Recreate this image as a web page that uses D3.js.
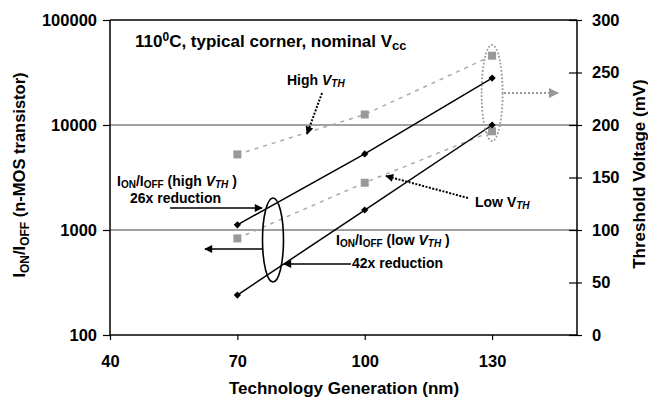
<!DOCTYPE html>
<html>
<head>
<meta charset="utf-8">
<script src="https://cdn.jsdelivr.net/npm/d3@7"></script>
<style>
  body { margin: 0; background: #fff; }
  svg { font-family: "Liberation Sans", Arial, sans-serif; font-weight: bold; }
</style>
</head>
<body>
<svg id="chart" width="648" height="398"></svg>
<script>
// technology nodes (nm)
const nodes = [70, 100, 130];
// Ion/Ioff ratios (left, log axis)
const ratioHighVth = [1120, 5300, 28000];
const ratioLowVth = [240, 1550, 10000];
// threshold voltages (right axis, mV)
const vthHigh = [172, 210, 266];
const vthLow = [92, 145, 194];

const xTicks = [40, 70, 100, 130];
const yLeftTicks = [100, 1000, 10000, 100000];
const yRightTicks = [0, 50, 100, 150, 200, 250, 300];

const svg = d3.select("#chart");
const pLeft = 110, pRight = 577, pTop = 20, pBottom = 335;

const x = d3.scaleLinear().domain([40, 150]).range([pLeft, pRight]);
const yL = d3.scaleLog().domain([100, 100000]).range([pBottom, pTop]);
const yR = d3.scaleLinear().domain([0, 300]).range([pBottom, pTop]);

// defs: arrow heads
const defs = svg.append("defs");
defs.append("marker").attr("id", "ahBlack")
    .attr("viewBox", "0 0 10 10").attr("refX", 9).attr("refY", 5)
    .attr("markerWidth", 11).attr("markerHeight", 8).attr("markerUnits", "userSpaceOnUse")
    .attr("orient", "auto")
  .append("path").attr("d", "M0,0 L10,5 L0,10 z").attr("fill", "#000");
defs.append("marker").attr("id", "ahGray")
    .attr("viewBox", "0 0 10 10").attr("refX", 9).attr("refY", 5)
    .attr("markerWidth", 13).attr("markerHeight", 10).attr("markerUnits", "userSpaceOnUse")
    .attr("orient", "auto")
  .append("path").attr("d", "M0,0 L10,5 L0,10 z").attr("fill", "#999");

// gridlines
svg.append("g").selectAll("line")
  .data([1000, 10000])
  .join("line")
  .attr("x1", pLeft).attr("x2", pRight)
  .attr("y1", d => yL(d)).attr("y2", d => yL(d))
  .style("stroke", "#444").style("stroke-width", 1.2);
svg.append("line")
  .attr("x1", pLeft).attr("x2", pRight).attr("y1", pTop).attr("y2", pTop)
  .style("stroke", "#000").style("stroke-width", 1.5);

// axes
const axisLeft = svg.append("g").attr("transform", `translate(${pLeft},0)`)
  .call(d3.axisLeft(yL).tickValues(yLeftTicks).tickFormat(d3.format("d")).tickSize(5).tickPadding(8));
const axisRight = svg.append("g").attr("transform", `translate(${pRight},0)`)
  .call(d3.axisRight(yR).tickValues(yRightTicks).tickSize(5).tickPadding(10));
const axisBottom = svg.append("g").attr("transform", `translate(0,${pBottom})`)
  .call(d3.axisBottom(x).tickValues(xTicks).tickSize(5).tickPadding(15));
[axisLeft, axisRight, axisBottom].forEach(a => {
  a.select(".domain").style("stroke", "#000").style("stroke-width", 1.5);
  a.selectAll(".tick line").style("stroke", "#000").style("stroke-width", 1.2);
  a.selectAll("text").style("font-size", "16.5px").style("font-weight", "bold").style("fill", "#000")
    .style("font-family", "'Liberation Sans', Arial, sans-serif");
});
axisBottom.select(".domain").attr("d", `M${pLeft},0H${pRight}`);
axisLeft.select(".domain").attr("d", `M0,${pTop}V${pBottom}`);
axisRight.select(".domain").attr("d", `M0,${pTop}V${pBottom}`);
// right ticks cross the axis
axisRight.selectAll(".tick line").attr("x1", -8).attr("x2", 5);
axisLeft.selectAll(".tick line").attr("x2", -7);

// axis titles
svg.append("text").attr("x", 344).attr("y", 394)
  .attr("text-anchor", "middle").style("font-size", "17px").text("Technology Generation (nm)");

const lt = svg.append("text").attr("transform", "translate(25,175) rotate(-90)")
  .attr("text-anchor", "middle").style("font-size", "16.5px");
lt.append("tspan").text("I");
lt.append("tspan").attr("dy", 4).style("font-size", "12px").text("ON");
lt.append("tspan").attr("dy", -4).text("/I");
lt.append("tspan").attr("dy", 4).style("font-size", "12px").text("OFF");
lt.append("tspan").attr("dy", -4).text(" (n-MOS transistor)");

svg.append("text").attr("transform", "translate(645,174) rotate(-90)")
  .attr("text-anchor", "middle").style("font-size", "17px").text("Threshold Voltage (mV)");

// Vth dashed gray lines
const lineR = d3.line().x((d, i) => x(nodes[i])).y(d => yR(d));
[vthHigh, vthLow].forEach(s => {
  svg.append("path").datum(s).attr("d", lineR)
    .attr("fill", "none").style("stroke", "#aaa").style("stroke-width", 1.5)
    .style("stroke-dasharray", "4,5");
  svg.append("g").selectAll("rect").data(s).join("rect")
    .attr("x", (d, i) => x(nodes[i]) - 4).attr("y", d => yR(d) - 4)
    .attr("width", 8).attr("height", 8).style("fill", "#999");
});

// Ion/Ioff black lines
const lineL = d3.line().x((d, i) => x(nodes[i])).y(d => yL(d));
[ratioHighVth, ratioLowVth].forEach(s => {
  svg.append("path").datum(s).attr("d", lineL)
    .attr("fill", "none").style("stroke", "#000").style("stroke-width", 1.5);
  svg.append("g").selectAll("path").data(s).join("path")
    .attr("transform", (d, i) => `translate(${x(nodes[i])},${yL(d)}) rotate(45)`)
    .attr("d", d3.symbol(d3.symbolSquare, 26))
    .style("fill", "#000");
});

// ellipses
svg.append("ellipse").attr("cx", 273).attr("cy", 240).attr("rx", 10.5).attr("ry", 42)
  .attr("fill", "none").style("stroke", "#000").style("stroke-width", 1.6);
svg.append("ellipse").attr("cx", x(130)).attr("cy", 93).attr("rx", 10.5).attr("ry", 48)
  .attr("fill", "none").style("stroke", "#999").style("stroke-width", 1.8)
  .style("stroke-dasharray", "1.8,1.8");

// arrows
function arrow(x1, y1, x2, y2, color, dash, marker) {
  const l = svg.append("line").attr("x1", x1).attr("y1", y1).attr("x2", x2).attr("y2", y2)
    .style("stroke", color).style("stroke-width", dash ? 2 : 1.6)
    .attr("marker-end", `url(#${marker})`);
  if (dash) l.style("stroke-dasharray", dash);
}
arrow(170, 208, 262, 208, "#000", null, "ahBlack");
arrow(262, 249, 205, 249, "#000", null, "ahBlack");
arrow(351, 264, 284, 264, "#000", null, "ahBlack");
arrow(322, 93, 307, 134, "#000", "2,1.5", "ahBlack");
arrow(468, 198, 386, 176, "#000", "2,1.5", "ahBlack");
arrow(504, 93, 558, 93, "#999", "2,2", "ahGray");

// labels with subscripts
function label(xp, yp, parts, size, subDy) {
  const t = svg.append("text").attr("x", xp).attr("y", yp).style("font-size", size + "px");
  parts.forEach(p => {
    const s = t.append("tspan").text(p.t);
    if (p.sub) s.attr("dy", subDy).style("font-size", (size - 4) + "px");
    if (p.up) s.attr("dy", -subDy);
    if (p.sup) s.attr("dy", -6).style("font-size", (size - 5) + "px");
    if (p.down) s.attr("dy", 6);
    if (p.i) s.style("font-style", "italic");
  });
  return t;
}
label(135, 47, [{ t: "110" }, { t: "0", sup: true }, { t: "C, typical corner, nominal V", down: true },
  { t: "cc", sub: true }], 17, 3);
label(287, 85, [{ t: "High " }, { t: "V", i: true }, { t: "TH", sub: true, i: true }], 14, 2);
label(475, 207, [{ t: "Low V" }, { t: "TH", sub: true, i: true }], 14, 2);
label(117, 186, [{ t: "I" }, { t: "ON", sub: true }, { t: "/I", up: true }, { t: "OFF", sub: true },
  { t: " (high ", up: true }, { t: "V", i: true }, { t: "TH", sub: true, i: true }, { t: " )", up: true }], 14, 2);
label(130, 203, [{ t: "26x reduction" }], 14, 2);
label(336, 245, [{ t: "I" }, { t: "ON", sub: true }, { t: "/I", up: true }, { t: "OFF", sub: true },
  { t: " (low ", up: true }, { t: "V", i: true }, { t: "TH", sub: true, i: true }, { t: " )", up: true }], 14, 2);
label(352, 268, [{ t: "42x reduction" }], 14, 2);
</script>
</body>
</html>
